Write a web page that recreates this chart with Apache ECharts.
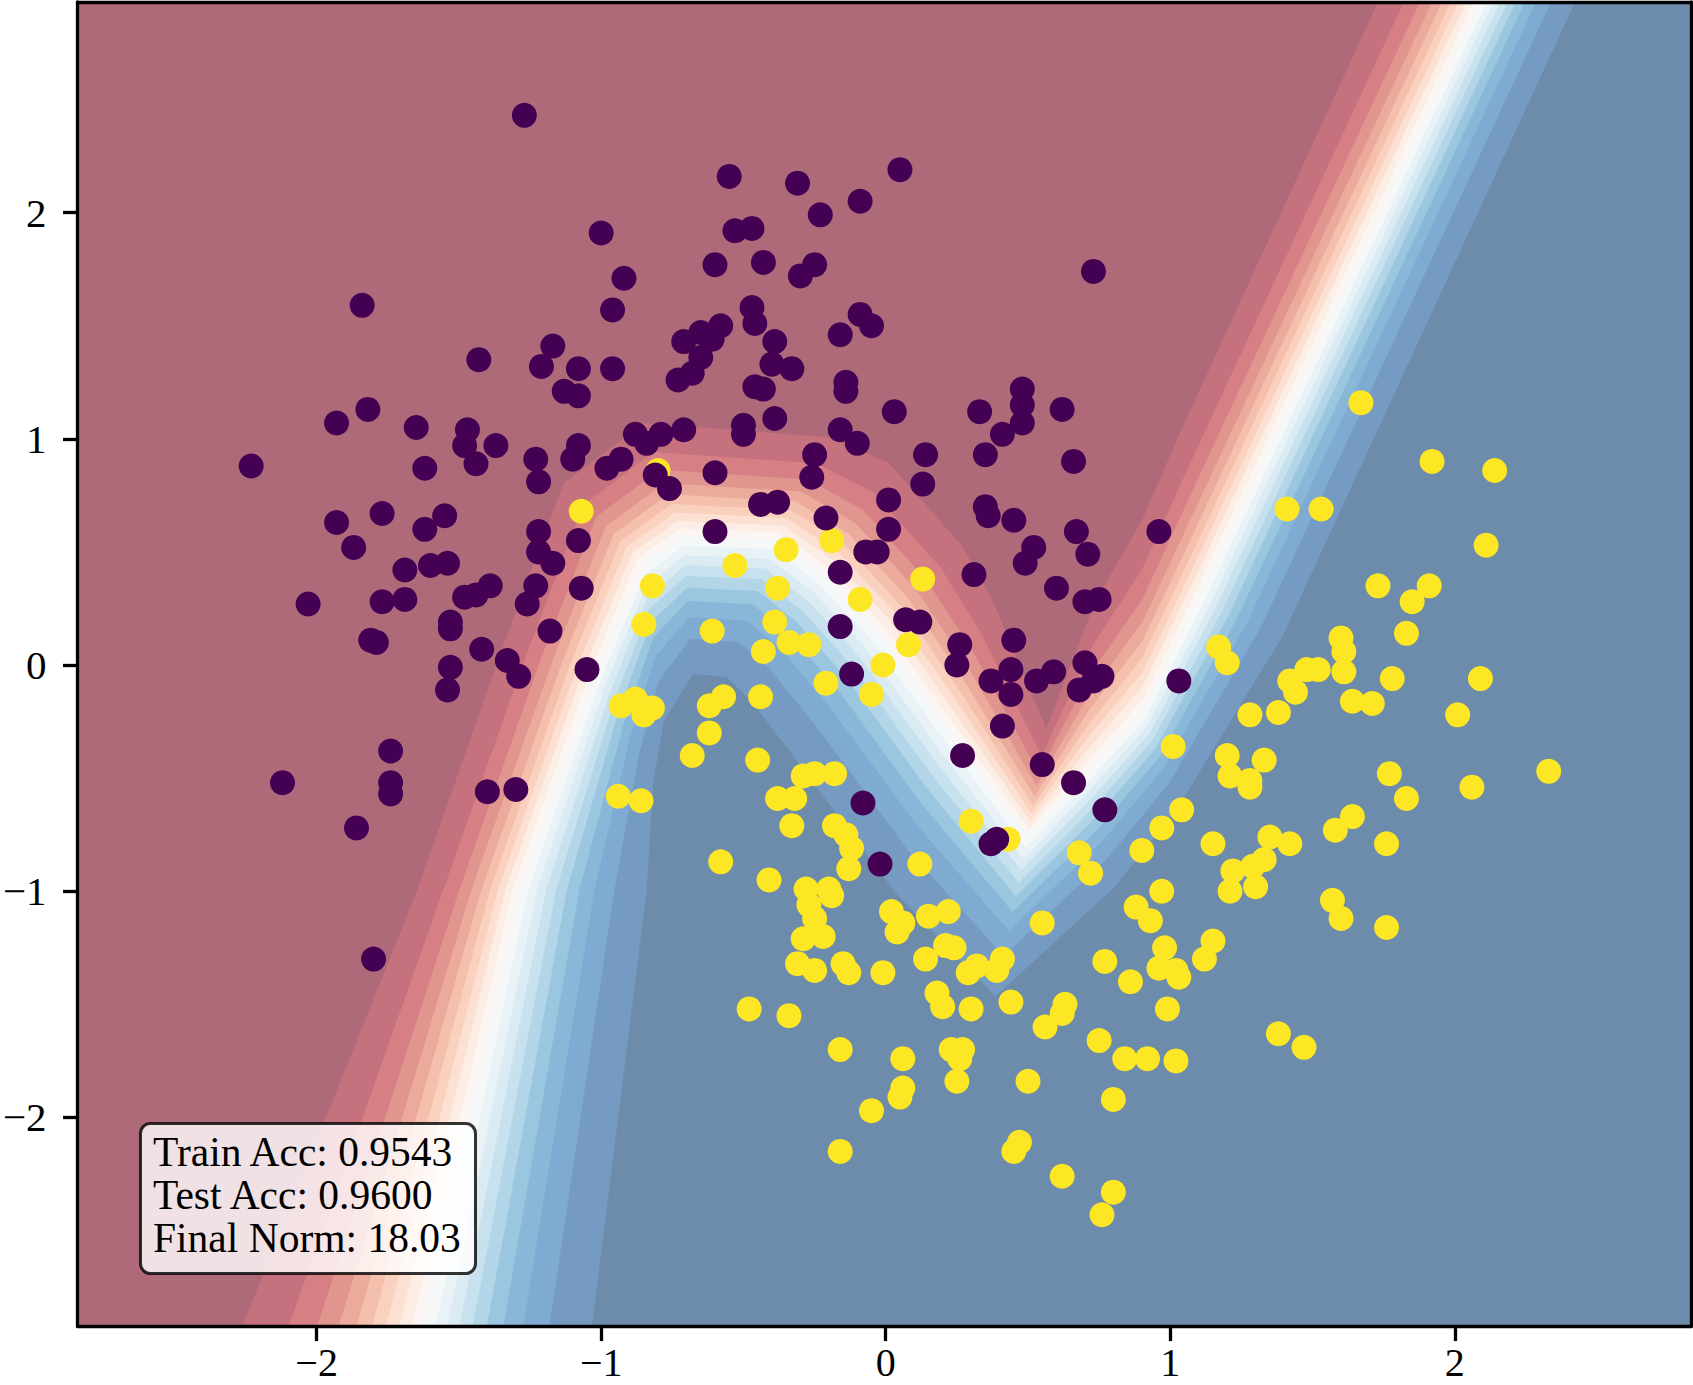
<!DOCTYPE html>
<html>
<head>
<meta charset="utf-8">
<title>Decision boundary</title>
<script src="https://cdn.jsdelivr.net/npm/echarts@6/dist/echarts.min.js"></script>
<style>
  html, body { margin: 0; padding: 0; background: #fff; }
  #chart { width: 1693px; height: 1385px; }
</style>
</head>
<body>
<div id="chart"></div>
<script>
// axis ranges and ticks
const xRange = [-2.84, 2.83];
const yRange = [-2.924, 2.931];
const xTicks = [-2, -1, 0, 1, 2];
const yTicks = [-2, -1, 0, 1, 2];

// contour lines of P(class 1): 0.05 (red edge), 0.5 (center), 0.95 (blue edge)
// same number of vertices, matched along the slope
const edgeRed = [[-2.285, -3.0], [-1.646, -0.993], [-1.347, 0.076], [-1.132, 0.802], [-0.851, 1.069],
  [-0.197, 1.007], [0.011, 0.893], [0.269, 0.525], [0.375, 0.286], [0.564, -0.282],
  [0.738, 0.286], [0.901, 0.640], [1.022, 0.993], [1.755, 3.0]];
const centerLine = [[-1.635, -3.0], [-1.287, -0.993], [-1.014, -0.029], [-0.851, 0.449], [-0.711, 0.568],
  [-0.386, 0.554], [-0.212, 0.391], [-0.034, 0.158], [0.212, -0.272], [0.500, -0.759],
  [0.700, -0.487], [0.901, -0.215], [1.097, 0.286], [2.115, 3.0]];
const edgeBlue = [[-1.040, -3.0], [-0.840, -0.993], [-0.817, -0.520], [-0.780, -0.248], [-0.677, -0.038],
  [-0.560, -0.053], [-0.477, -0.153], [-0.314, -0.420], [0.034, -1.007], [0.386, -1.465],
  [0.806, -0.979], [1.029, -0.625], [1.393, 0.124], [2.448, 3.0]];

// contourf levels
const levels = [0.05, 0.10, 0.15, 0.20, 0.25, 0.30, 0.35, 0.40, 0.45, 0.50,
  0.55, 0.60, 0.65, 0.70, 0.75, 0.80, 0.85, 0.90, 0.95];

// class 0 points (purple)
const class0 = [
  [-1.27, 2.43], [-1.00, 1.91], [-1.84, 1.59], [-1.43, 1.35], [-1.17, 1.41], [-1.21, 1.32], [-1.08, 1.31],
  [-1.13, 1.21], [-1.08, 1.19], [-1.93, 1.07], [-1.82, 1.13], [-1.65, 1.05], [-1.47, 1.04],
  [-0.55, 2.16], [-0.31, 2.13], [0.05, 2.19], [-0.09, 2.05], [-0.23, 1.99], [-0.53, 1.92], [-0.47, 1.93],
  [-0.92, 1.71], [-0.60, 1.77], [-0.43, 1.78], [-0.25, 1.77], [-0.30, 1.72], [0.73, 1.74], [-0.96, 1.57],
  [-0.47, 1.58], [-0.46, 1.51], [-0.58, 1.50], [-0.65, 1.47], [-0.71, 1.43], [-0.61, 1.44], [-0.65, 1.36],
  [-0.68, 1.29], [-0.73, 1.26], [-0.39, 1.43], [-0.09, 1.55], [-0.05, 1.50], [-0.16, 1.46], [-0.40, 1.33],
  [-0.33, 1.31], [-0.96, 1.31], [-0.46, 1.23], [-0.43, 1.22], [-0.14, 1.25], [-0.14, 1.21], [0.48, 1.22],
  [0.48, 1.15], [0.48, 1.07], [0.62, 1.13], [0.33, 1.12], [0.03, 1.12], [0.41, 1.02], [-0.39, 1.09],
  [-0.50, 1.06], [-0.50, 1.02], [-0.71, 1.04], [-0.79, 1.02], [-0.88, 1.02], [-0.84, 0.98], [-0.16, 1.04],
  [-0.10, 0.98],
  [-2.23, 0.88], [-1.62, 0.87], [-1.48, 0.97], [-1.44, 0.89], [-1.37, 0.97], [-1.23, 0.91], [-1.22, 0.81],
  [-1.10, 0.91], [-1.08, 0.97], [-0.98, 0.87], [-1.93, 0.63], [-1.77, 0.67], [-1.55, 0.66], [-1.62, 0.60],
  [-1.87, 0.52], [-1.69, 0.42], [-1.60, 0.44], [-1.54, 0.45], [-1.22, 0.59], [-1.22, 0.50], [-1.17, 0.45],
  [-1.08, 0.55], [-1.07, 0.34], [-1.23, 0.35], [-1.26, 0.27], [-1.39, 0.35], [-1.44, 0.31], [-1.48, 0.30],
  [-2.03, 0.27], [-1.77, 0.28], [-1.69, 0.29], [-1.53, 0.19], [-1.53, 0.16], [-1.81, 0.11], [-1.79, 0.10],
  [-1.18, 0.15], [-1.42, 0.07], [-1.33, 0.02], [-1.29, -0.05], [-1.53, -0.01], [-1.54, -0.11], [-1.05, -0.02],
  [-1.74, -0.38], [-2.12, -0.52], [-1.74, -0.52], [-1.74, -0.57], [-1.40, -0.56], [-1.30, -0.55], [-1.86, -0.72],
  [-0.93, 0.91], [-0.81, 0.84], [-0.76, 0.78], [-0.60, 0.85], [-0.25, 0.93], [-0.26, 0.83], [0.14, 0.93],
  [0.35, 0.93], [0.66, 0.90], [0.13, 0.80], [-0.44, 0.71], [-0.38, 0.72], [-0.21, 0.65], [0.01, 0.73],
  [0.01, 0.60], [-0.60, 0.59], [0.35, 0.70], [0.36, 0.66], [0.45, 0.64], [0.67, 0.59], [0.71, 0.49],
  [0.52, 0.52], [0.49, 0.45], [0.31, 0.40], [0.60, 0.34], [0.70, 0.28], [0.75, 0.29], [-0.07, 0.50],
  [-0.03, 0.50], [-0.16, 0.41], [-0.16, 0.17], [0.07, 0.20], [0.12, 0.19], [0.45, 0.11], [0.26, 0.09],
  [0.25, 0.00], [0.37, -0.07], [0.44, -0.02], [0.44, -0.13], [0.53, -0.07], [0.59, -0.03], [0.70, 0.01],
  [0.68, -0.11], [0.76, -0.05], [0.73, -0.07], [-0.12, -0.04], [0.41, -0.27], [0.27, -0.40], [0.55, -0.44],
  [0.66, -0.52], [0.77, -0.64], [-0.08, -0.61], [0.39, -0.77], [0.37, -0.79], [-0.02, -0.88],
  [0.96, 0.59], [1.03, -0.07], [-1.80, -1.30]
];

// class 1 points (yellow)
const class1 = [
  [-1.07, 0.68], [1.67, 1.16],
  [-0.80, 0.86], [-0.35, 0.51], [-0.19, 0.55], [-0.53, 0.44], [-0.82, 0.35], [-0.38, 0.34], [0.13, 0.38],
  [-0.09, 0.29], [-0.85, 0.18], [-0.61, 0.15], [-0.39, 0.19], [-0.34, 0.10], [-0.27, 0.09], [-0.43, 0.06],
  [0.08, 0.09], [-0.01, 0.00], [-0.21, -0.08], [-0.05, -0.13], [-0.93, -0.18], [-0.88, -0.15], [-0.85, -0.22],
  [-0.82, -0.19], [-0.62, -0.18], [-0.57, -0.14], [-0.44, -0.14], [-0.62, -0.30], [-0.68, -0.40], [-0.45, -0.42],
  [-0.29, -0.49], [-0.25, -0.48], [-0.18, -0.48], [-0.38, -0.59], [-0.32, -0.59], [-0.94, -0.58], [-0.86, -0.60],
  [-0.33, -0.71], [-0.18, -0.71], [-0.14, -0.75], [-0.12, -0.81], [-0.13, -0.90], [0.30, -0.69], [0.43, -0.77],
  [0.68, -0.83], [0.72, -0.92], [0.90, -0.82], [-0.58, -0.87], [0.12, -0.88], [-0.41, -0.95],
  [1.92, 0.90], [2.14, 0.86], [1.41, 0.69], [1.53, 0.69], [2.11, 0.53], [1.73, 0.35], [1.91, 0.35],
  [1.85, 0.28], [1.83, 0.14], [1.60, 0.12], [1.61, 0.06], [1.61, -0.03], [1.17, 0.08], [1.20, 0.01],
  [1.42, -0.07], [1.44, -0.12], [1.48, -0.02], [1.52, -0.02], [1.78, -0.06], [2.09, -0.06], [1.64, -0.16],
  [1.71, -0.17], [1.28, -0.22], [1.38, -0.21], [2.01, -0.22], [1.01, -0.36], [1.20, -0.40], [1.33, -0.42],
  [1.21, -0.49], [1.28, -0.51], [1.28, -0.54], [1.77, -0.48], [2.33, -0.47], [2.06, -0.54], [1.83, -0.59],
  [1.04, -0.64], [0.97, -0.72], [1.64, -0.67], [1.58, -0.73], [1.76, -0.79], [1.15, -0.79], [1.35, -0.76],
  [1.42, -0.79], [1.33, -0.86], [1.22, -0.91], [1.29, -0.89],
  [-0.28, -0.99], [-0.20, -0.99], [-0.19, -1.02], [-0.27, -1.06], [-0.25, -1.12], [-0.29, -1.21], [-0.22, -1.20],
  [-0.31, -1.32], [-0.25, -1.35], [-0.15, -1.32], [-0.13, -1.36], [-0.01, -1.36], [0.02, -1.09], [0.06, -1.14],
  [0.04, -1.18], [0.15, -1.11], [0.22, -1.09], [0.21, -1.24], [0.24, -1.25], [0.14, -1.30], [0.29, -1.36],
  [0.32, -1.33], [0.41, -1.30], [0.39, -1.35], [0.55, -1.14], [0.18, -1.45], [0.20, -1.51], [0.30, -1.52],
  [0.44, -1.49], [0.63, -1.50], [0.62, -1.54], [0.56, -1.60], [0.77, -1.31], [0.86, -1.40], [0.88, -1.07],
  [0.75, -1.66], [0.84, -1.74], [0.80, -1.92], [0.50, -1.84], [0.25, -1.84], [0.23, -1.70], [0.27, -1.70],
  [0.26, -1.74], [0.06, -1.74], [0.06, -1.87], [0.05, -1.91], [-0.05, -1.97], [-0.16, -1.70], [-0.48, -1.52],
  [-0.34, -1.55], [-0.16, -2.15], [0.47, -2.11], [0.45, -2.15], [0.62, -2.26], [0.80, -2.33], [0.76, -2.43],
  [0.97, -1.00], [1.21, -1.00], [1.30, -0.98], [1.57, -1.04], [1.60, -1.12], [1.76, -1.16], [0.93, -1.13],
  [0.98, -1.25], [1.15, -1.22], [1.12, -1.30], [0.96, -1.34], [1.02, -1.35], [1.03, -1.38], [0.99, -1.52],
  [1.38, -1.63], [1.47, -1.69], [0.92, -1.74], [1.02, -1.75]
];

const statsLines = ['Train Acc: 0.9543', 'Test Acc: 0.9600', 'Final Norm: 18.03'];

// RdBu colormap anchors, drawn with alpha 0.6 over white
const RDBU = [[103, 0, 31], [178, 24, 43], [214, 96, 77], [244, 165, 130], [253, 219, 199], [247, 247, 247],
  [209, 229, 240], [146, 197, 222], [67, 147, 195], [33, 102, 172], [5, 48, 97]];
const ALPHA = 0.6;

function rdbu(v) {
  const f = v * 10;
  const i = Math.min(9, Math.floor(f));
  const t = f - i;
  const c = RDBU[i].map((a, j) => a + (RDBU[i + 1][j] - a) * t);
  const m = c.map(a => Math.round(ALPHA * a + (1 - ALPHA) * 255));
  return 'rgb(' + m.join(',') + ')';
}

const LOGIT_EDGE = Math.log(0.95 / 0.05);

// contour at level p, placed between the center line and the matching edge
function levelLine(p) {
  const s = Math.log(p / (1 - p)) / LOGIT_EDGE;
  const edge = s < 0 ? edgeRed : edgeBlue;
  const t = Math.abs(s);
  return centerLine.map((c, i) => [c[0] + t * (edge[i][0] - c[0]), c[1] + t * (edge[i][1] - c[1])]);
}

// band index 0 = whole plot, band k = region above levels[k-1]
const bands = [0].concat(levels.map((_, i) => i + 1));

function renderBand(params, api) {
  const k = api.value(0);
  let pts;
  if (k === 0) {
    pts = [[-4, -4], [-4, 4], [4, 4], [4, -4]];
  } else {
    const line = levelLine(levels[k - 1]);
    pts = line.concat([[4, line[line.length - 1][1]], [4, line[0][1]]]);
  }
  return {
    type: 'polygon',
    shape: { points: pts.map(p => api.coord(p)) },
    style: { fill: rdbu(0.025 + 0.05 * k), stroke: null },
    silent: true
  };
}

const fmt = v => (v < 0 ? '\u2212' + Math.abs(v) : String(v));
const FONT = 'Liberation Serif';

const chart = echarts.init(document.getElementById('chart'), null, { renderer: 'svg' });
chart.setOption({
  animation: false,
  backgroundColor: '#fff',
  title: {
    text: statsLines.join('\n'),
    left: 140,
    top: 1123,
    padding: [7, 15, 15, 13],
    backgroundColor: 'rgba(255,255,255,0.8)',
    borderColor: 'rgba(0,0,0,0.8)',
    borderWidth: 3,
    borderRadius: 10,
    textStyle: { fontFamily: FONT, fontSize: 41.5, fontWeight: 'normal', color: '#000', lineHeight: 43 }
  },
  grid: { left: 73, right: 2, top: 2, bottom: 58.5 },
  xAxis: [{
    type: 'value', min: xRange[0], max: xRange[1], z: 10,
    axisLine: { show: true, onZero: false, lineStyle: { color: '#000', width: 3.3 } },
    axisTick: { show: true, length: 14.6, customValues: xTicks, lineStyle: { color: '#000', width: 3.3 } },
    axisLabel: { customValues: xTicks, formatter: fmt, fontFamily: FONT, fontSize: 40, color: '#000', margin: 16, lineHeight: 40 },
    splitLine: { show: false }
  }, {
    type: 'value', position: 'top', min: xRange[0], max: xRange[1], z: 10,
    axisLine: { show: true, onZero: false, lineStyle: { color: '#000', width: 3.3 } },
    axisTick: { show: false }, axisLabel: { show: false }, splitLine: { show: false }
  }],
  yAxis: [{
    type: 'value', min: yRange[0], max: yRange[1], z: 10,
    axisLine: { show: true, onZero: false, lineStyle: { color: '#000', width: 3.3 } },
    axisTick: { show: true, length: 14.6, customValues: yTicks, lineStyle: { color: '#000', width: 3.3 } },
    axisLabel: { customValues: yTicks, formatter: fmt, fontFamily: FONT, fontSize: 41, color: '#000', margin: 31 },
    splitLine: { show: false }
  }, {
    type: 'value', position: 'right', min: yRange[0], max: yRange[1], z: 10,
    axisLine: { show: true, onZero: false, lineStyle: { color: '#000', width: 3.3 } },
    axisTick: { show: false }, axisLabel: { show: false }, splitLine: { show: false }
  }],
  series: [{
    type: 'custom',
    name: 'boundary',
    xAxisIndex: 0, yAxisIndex: 0,
    clip: true,
    z: 1,
    silent: true,
    renderItem: renderBand,
    data: bands.map(k => [k])
  }, {
    type: 'scatter',
    name: 'class 1',
    xAxisIndex: 0, yAxisIndex: 0,
    z: 3,
    symbolSize: 25,
    itemStyle: { color: '#fde725', opacity: 1 },
    data: class1
  }, {
    type: 'scatter',
    name: 'class 0',
    xAxisIndex: 0, yAxisIndex: 0,
    z: 3,
    symbolSize: 25,
    itemStyle: { color: '#440154', opacity: 1 },
    data: class0
  }]
});
</script>
</body>
</html>
